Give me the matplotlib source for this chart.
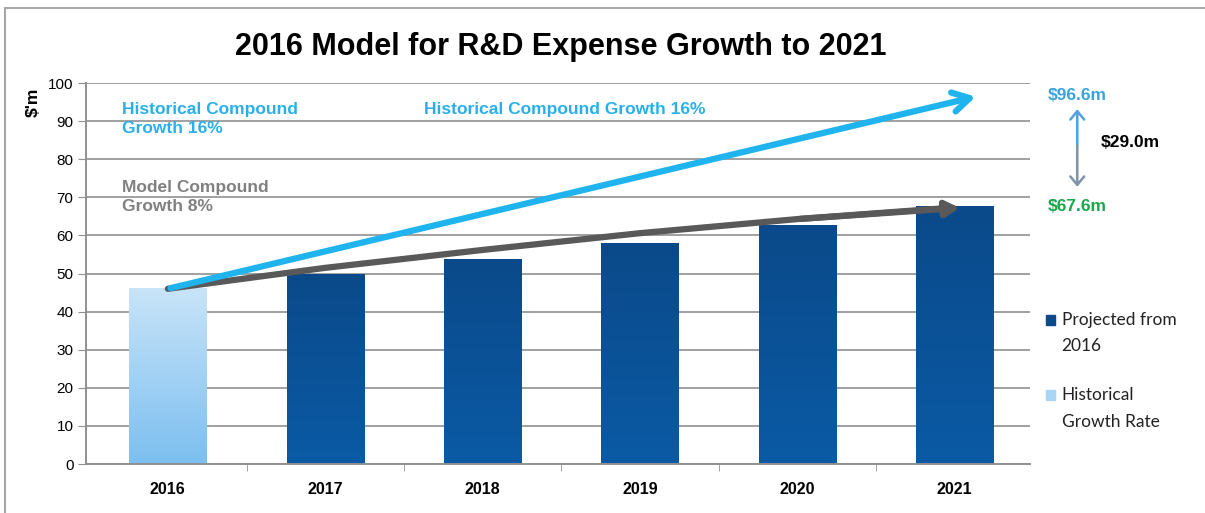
import numpy as np
import matplotlib.pyplot as plt
from matplotlib.patches import Rectangle, FancyArrowPatch
from matplotlib.colors import LinearSegmentedColormap

years = ['2016', '2017', '2018', '2019', '2020', '2021']
values = [46.0, 49.7, 53.7, 58.0, 62.6, 67.6]
historical = [True, False, False, False, False, False]

# arrow lines
hist_arrow = [(0.0, 46.0), (5.15, 96.6)]
model_x = [0.0, 1.0, 2.0, 3.0, 4.0, 5.05]
model_y = [46.0, 51.5, 56.2, 60.6, 64.3, 67.3]

top_label = '$96.6m'
bottom_label = '$67.6m'
gap_label = '$29.0m'

plt.rcParams['font.family'] = ['Liberation Sans', 'DejaVu Sans']

fig = plt.figure(figsize=(12.05, 5.13), dpi=100)
ax = fig.add_axes([0.0714, 0.0955, 0.7836, 0.7425])

# outer frame
fig.add_artist(Rectangle((0.004, -0.01), 0.998, 0.995, transform=fig.transFigure,
                         fill=False, edgecolor='#a8a8a8', linewidth=1.5))

dark = LinearSegmentedColormap.from_list('dark', ['#0b5aa5', '#0a4a8a'])
light = LinearSegmentedColormap.from_list('light', ['#7cbff0', '#c8e4f8'])
grad = np.linspace(0, 1, 100).reshape(-1, 1)

width = 0.49
for i, (v, h) in enumerate(zip(values, historical)):
    x0 = i - width / 2
    ax.imshow(grad, extent=[x0, x0 + width, 0, v], origin='lower',
              aspect='auto', cmap=light if h else dark, zorder=2)

ax.set_xlim(-0.52, 5.48)
ax.set_ylim(0, 100)
ax.set_yticks(range(0, 101, 10))
ax.set_xticks(range(6))
ax.set_xticklabels(years, fontweight='bold', fontsize=11.5)
ax.set_xticks(np.arange(0.5, 5.5, 1), minor=True)
ax.tick_params(axis='x', which='major', length=0, pad=13)
ax.tick_params(axis='x', which='minor', length=5, color='#909090')
ax.tick_params(axis='y', length=6, color='#909090', labelsize=11, pad=3)
ax.grid(axis='y', color='#a0a0a0', linewidth=1.4, zorder=1)
for s in ['top', 'right']:
    ax.spines[s].set_visible(False)
for s in ['left', 'bottom']:
    ax.spines[s].set_color('#909090')
    ax.spines[s].set_linewidth(1.4)
ax.set_ylabel("$'m", fontweight='bold', fontsize=12.5)
ax.yaxis.set_label_coords(-0.048, 0.95)

# historical growth arrow
ax.annotate('', xy=hist_arrow[1], xytext=hist_arrow[0],
            arrowprops=dict(arrowstyle='->,head_length=1.2,head_width=0.7',
                            color='#1fb4ee', lw=4.5), zorder=5)

# model growth curve
ax.plot(model_x[:-1] + [model_x[-1] - 0.1], model_y[:-1] + [model_y[-1] - 0.1],
        color='#595959', lw=4.5, solid_capstyle='round', zorder=4)
ax.annotate('', xy=(model_x[-1], model_y[-1]), xytext=(model_x[-2], model_y[-2]),
            arrowprops=dict(arrowstyle='-|>,head_length=0.8,head_width=0.45',
                            color='#595959', lw=4.5), zorder=4)

ax.text(-0.29, 90.55, 'Historical Compound\nGrowth 16%', color='#29b0ec',
        fontsize=12.5, fontweight='bold', va='center', linespacing=1.3, zorder=6)
ax.text(1.63, 93.2, 'Historical Compound Growth 16%', color='#29b0ec',
        fontsize=12.5, fontweight='bold', va='center', zorder=6)
ax.text(-0.29, 70.1, 'Model Compound\nGrowth 8%', color='#808080',
        fontsize=12.5, fontweight='bold', va='center', linespacing=1.3, zorder=6)

# right side annotations
fig.text(0.894, 0.813, top_label, color='#3aa3e0', fontsize=12.5,
         fontweight='bold', ha='center', va='center')
fig.text(0.894, 0.598, bottom_label, color='#1aa84c', fontsize=12.5,
         fontweight='bold', ha='center', va='center')
fig.text(0.938, 0.722, gap_label, color='black', fontsize=12.5,
         fontweight='bold', ha='center', va='center')
fig.add_artist(FancyArrowPatch((0.894, 0.716), (0.894, 0.787), transform=fig.transFigure,
                               arrowstyle='->,head_length=6,head_width=5',
                               color='#4fa3dc', lw=1.8, shrinkA=0, shrinkB=0))
fig.add_artist(FancyArrowPatch((0.894, 0.716), (0.894, 0.636), transform=fig.transFigure,
                               arrowstyle='->,head_length=6,head_width=5',
                               color='#7f93a8', lw=1.8, shrinkA=0, shrinkB=0))

# legend
leg_font = ['Lato', 'DejaVu Sans']
fig.add_artist(Rectangle((0.868, 0.367), 0.0075, 0.018, transform=fig.transFigure,
                         color='#0a4a8a'))
fig.text(0.881, 0.376, 'Projected from', fontsize=12.5, va='center',
         family=leg_font, color='#222222')
fig.text(0.881, 0.325, '2016', fontsize=12.5, va='center',
         family=leg_font, color='#222222')
fig.add_artist(Rectangle((0.868, 0.221), 0.0075, 0.018, transform=fig.transFigure,
                         color='#a9d6f5'))
fig.text(0.881, 0.230, 'Historical', fontsize=12.5, va='center',
         family=leg_font, color='#222222')
fig.text(0.881, 0.177, 'Growth Rate', fontsize=12.5, va='center',
         family=leg_font, color='#222222')

fig.text(0.465, 0.908, '2016 Model for R&D Expense Growth to 2021', fontsize=22,
         fontweight='bold', ha='center', va='center',
         family=['Liberation Sans Narrow', 'Liberation Sans', 'DejaVu Sans'])

fig.savefig('out.png', dpi=100)
